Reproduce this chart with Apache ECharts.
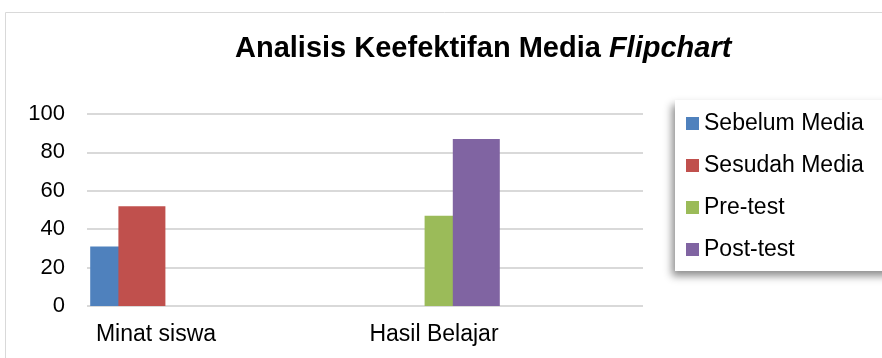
<!DOCTYPE html>
<html>
<head>
<meta charset="utf-8">
<script src="https://cdn.jsdelivr.net/npm/echarts@6/dist/echarts.min.js"></script>
<style>html,body{margin:0;padding:0;background:#fff}#c{width:882px;height:358px}</style>
</head>
<body>
<div id="c"></div>
<script>
const categories = ['Minat siswa', 'Hasil Belajar'];
const seriesNames = ['Sebelum Media', 'Sesudah Media', 'Pre-test', 'Post-test'];
const sebelumMedia = [31, null];
const sesudahMedia = [52, null];
const preTest = [null, 47];
const postTest = [null, 87];
const yTicks = [0, 20, 40, 60, 80, 100];
const colors = ['#4F81BD', '#C0504D', '#9BBB59', '#8064A2'];

const values = [sebelumMedia, sesudahMedia, preTest, postTest];
const font = '"Liberation Sans", Arial, sans-serif';

const chart = echarts.init(document.getElementById('c'));
chart.setOption({
  animation: false,
  color: colors,
  textStyle: { fontFamily: font },
  graphic: [{
    type: 'rect', silent: true, z: -10,
    shape: { x: 5.5, y: 12.5, width: 900, height: 400 },
    style: { fill: '#fff', stroke: '#d9d9d9', lineWidth: 1 }
  }],
  title: {
    left: 230, top: 29,
    text: '{b|Analisis Keefektifan Media }{i|Flipchart}',
    textStyle: {
      rich: {
        b: { fontFamily: font, fontSize: 29, fontWeight: 'bold', color: '#000' },
        i: { fontFamily: font, fontSize: 29, fontWeight: 'bold', fontStyle: 'italic', color: '#000' }
      }
    }
  },
  legend: {
    orient: 'vertical', left: 675, top: 100,
    data: seriesNames,
    icon: 'rect', itemWidth: 13, itemHeight: 13, itemGap: 19,
    padding: [12, 40, 10, 11],
    backgroundColor: '#fff',
    shadowBlur: 8, shadowColor: 'rgba(0,0,0,0.45)', shadowOffsetX: -3, shadowOffsetY: 5,
    textStyle: { fontFamily: font, fontSize: 23, color: '#000' }
  },
  grid: [
    { left: 87, right: 239, top: 114, bottom: 52 },
    { left: 17, width: 556, top: 114, bottom: 52 }
  ],
  xAxis: [
    { gridIndex: 0, type: 'category', data: categories, show: false },
    { gridIndex: 1, type: 'category', data: categories,
      axisLine: { show: false }, axisTick: { show: false },
      axisLabel: { fontFamily: font, fontSize: 23, color: '#000', margin: 17 } }
  ],
  yAxis: [
    { gridIndex: 0, type: 'value', min: yTicks[0], max: yTicks[yTicks.length - 1], interval: 20,
      axisLine: { show: false }, axisTick: { show: false },
      axisLabel: { fontFamily: font, fontSize: 22, color: '#000', margin: 22 },
      splitLine: { lineStyle: { color: '#d9d9d9', width: 2 } } },
    { gridIndex: 1, type: 'value', min: yTicks[0], max: yTicks[yTicks.length - 1], interval: 20, show: false,
      splitLine: { show: false } }
  ],
  series: seriesNames.map((name, i) => ({
    name, type: 'bar', xAxisIndex: 1, yAxisIndex: 1,
    data: values[i], barWidth: 47, barGap: '-40%',
    itemStyle: { color: colors[i] }
  }))
});
</script>
</body>
</html>
